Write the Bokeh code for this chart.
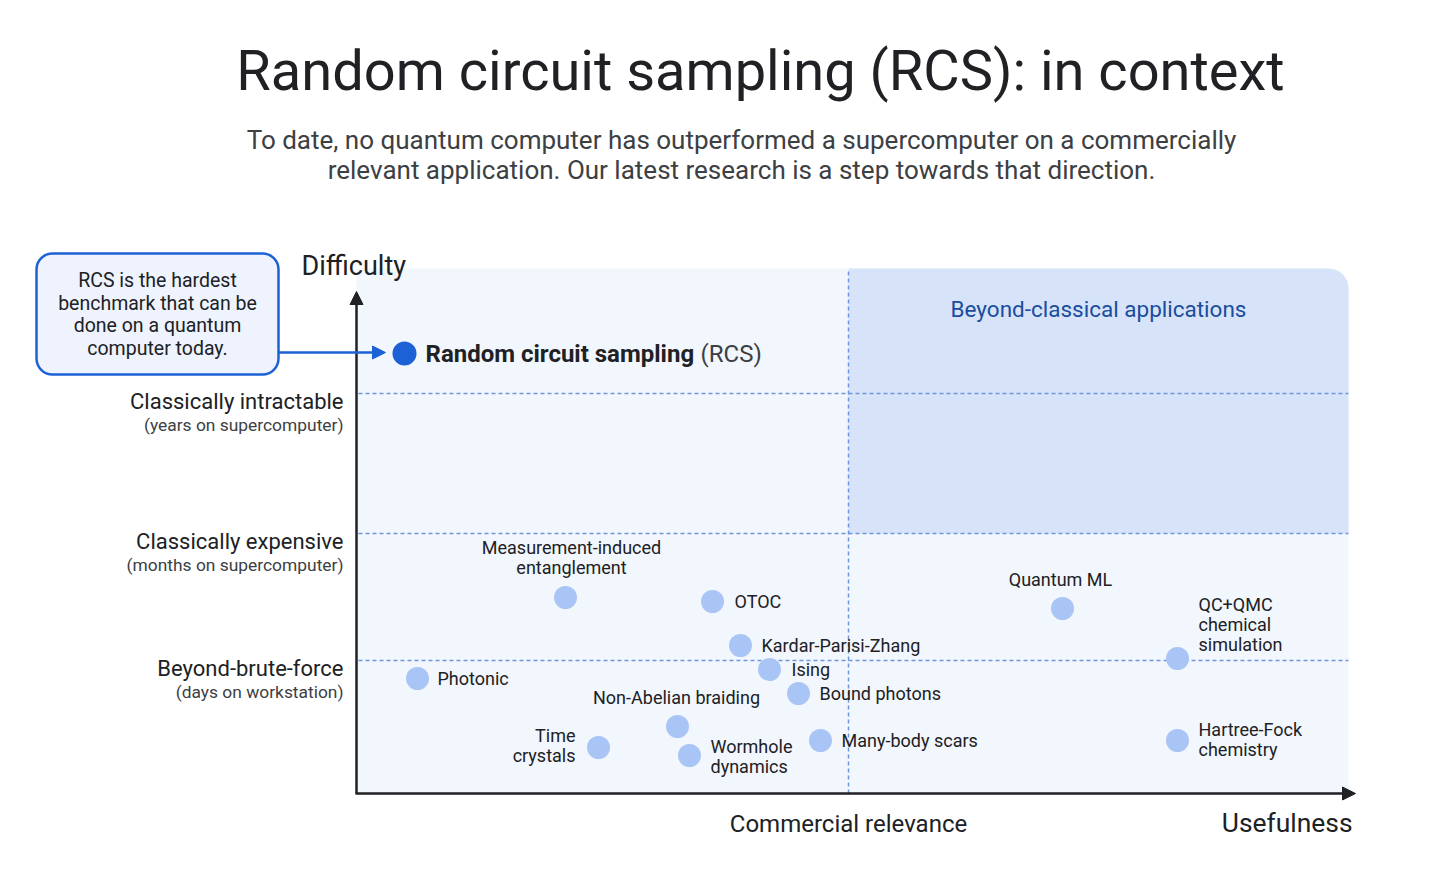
from bokeh.plotting import figure
from bokeh.models import Range1d, BoxAnnotation, Arrow, NormalHead, ColumnDataSource
from bokeh.core.properties import value
from bokeh.embed import file_html
from bokeh.resources import INLINE

# ---------------- data ----------------
# usefulness (x, 0..100) and difficulty (y, 0..100)
names = ["Measurement-induced\nentanglement", "OTOC", "Kardar-Parisi-Zhang", "Ising", "Photonic",
         "Bound photons", "Non-Abelian braiding", "Time\ncrystals", "Wormhole\ndynamics",
         "Many-body scars", "Quantum ML", "QC+QMC\nchemical\nsimulation", "Hartree-Fock\nchemistry"]
usefulness = [20.9, 35.6, 38.4, 41.3, 6.1, 44.2, 32.1, 24.2, 33.3, 46.4, 70.6, 82.1, 82.1]
difficulty = [39.2, 38.4, 29.6, 24.8, 23.0, 20.0, 13.4, 9.2, 7.6, 10.6, 37.0, 27.0, 10.6]

rcs_name = "Random circuit sampling"
rcs_usefulness = [4.8]
rcs_difficulty = [88.0]

tiers = ["Beyond-brute-force", "Classically expensive", "Classically intractable"]
tier_notes = ["(days on workstation)", "(months on supercomputer)", "(years on supercomputer)"]
tier_levels = [26.6, 52.0, 80.0]
commercial_relevance = 49.2

title = "Random circuit sampling (RCS): in context"
subtitle = ("To date, no quantum computer has outperformed a supercomputer on a commercially\n"
            "relevant application. Our latest research is a step towards that direction.")
callout = "RCS is the hardest\nbenchmark that can be\ndone on a quantum\ncomputer today."

# ---------------- layout (pixel offsets of labels) ----------------
label_dx = [6, 22, 21, 22, 20, 21, -1, -23, 21, 21, -2, 21, 21]
label_dy = [-40, 0, 0, 0, 0, 0, -29, -2, 1, 0, -29, -34, -1]
label_align = ["center", "left", "left", "left", "left", "left", "center", "right", "left",
               "left", "center", "left", "left"]

PX_X = 10.0   # pixels per x unit
PX_Y = 5.0    # pixels per y unit
FONT = value("Roboto")
INK = "#202124"
SUB = "#3c4043"
BLUE = "#1c62d6"
DOT = "#a9c5f5"

p = figure(width=1440, height=856, output_backend="svg", toolbar_location=None,
           x_range=Range1d(-35.6, 108.4), y_range=Range1d(-12.6, 158.6),
           min_border=0, background_fill_color="white", border_fill_color="white")
p.axis.visible = False
p.grid.visible = False
p.outline_line_color = None

# plot area background and beyond-classical quadrant
p.add_layout(BoxAnnotation(left=0, right=99.2, bottom=0, top=105, fill_color="#f2f6fd",
                           fill_alpha=1, line_color=None, border_radius=(0, 20, 0, 0), level="underlay"))
p.add_layout(BoxAnnotation(left=commercial_relevance, right=99.2, bottom=tier_levels[1], top=105,
                           fill_color="#d7e3f8", fill_alpha=1, line_color=None,
                           border_radius=(0, 20, 0, 0), level="underlay"))

# dashed tier lines and commercial relevance line
p.segment(x0=[0.2] * 3, x1=[99.2] * 3, y0=tier_levels, y1=tier_levels,
          line_color="#6f96dc", line_width=1.5, line_dash="4 3")
p.segment(x0=[commercial_relevance], x1=[commercial_relevance], y0=[0], y1=[105],
          line_color="#6f96dc", line_width=1.5, line_dash="4 3")

# axes with arrows
p.add_layout(Arrow(x_start=0, y_start=0, x_end=0, y_end=100.4, line_color=INK, line_width=2.5,
                   end=NormalHead(size=13, fill_color=INK, line_color=INK)))
p.add_layout(Arrow(x_start=-0.1, y_start=0, x_end=99.9, y_end=0, line_color=INK, line_width=2.5,
                   end=NormalHead(size=13, fill_color=INK, line_color=INK)))

# points
p.scatter(usefulness, difficulty, size=23, fill_color=DOT, line_color=None)
p.scatter(rcs_usefulness, rcs_difficulty, size=24, fill_color=BLUE, line_color=None)

# point labels
for al in ["left", "center", "right"]:
    idx = [i for i, a in enumerate(label_align) if a == al]
    src = ColumnDataSource(dict(
        x=[usefulness[i] + label_dx[i] / PX_X for i in idx],
        y=[difficulty[i] - label_dy[i] / PX_Y for i in idx],
        t=[names[i] for i in idx]))
    p.text("x", "y", text="t", source=src, text_font=FONT, text_font_size="18px",
           text_color=INK, text_align=al, text_baseline="middle", text_line_height=0.93)

# RCS label
p.text([rcs_usefulness[0] + 21 / PX_X], [rcs_difficulty[0]], text=[rcs_name], text_font=FONT,
       text_font_size="24px", text_font_style="bold", text_color=INK, text_baseline="middle")
p.text([rcs_usefulness[0] + 296 / PX_X], [rcs_difficulty[0]], text=["(RCS)"], text_font=FONT,
       text_font_size="24px", text_color=SUB, text_baseline="middle")

# tier labels on the difficulty axis
p.text([-1.3] * 3, [v - 8 / PX_Y for v in tier_levels], text=tiers, text_font=FONT,
       text_font_size="22px", text_color=INK, text_align="right", text_baseline="middle")
p.text([-1.3] * 3, [v - 31 / PX_Y for v in tier_levels], text=tier_notes, text_font=FONT,
       text_font_size="17.4px", text_color=SUB, text_align="right", text_baseline="middle")

# axis titles
p.text([-5.5], [105.6], text=["Difficulty"], text_font=FONT, text_font_size="27px",
       text_color=INK, text_baseline="middle")
p.text([commercial_relevance], [-6.0], text=["Commercial relevance"], text_font=FONT,
       text_font_size="24px", text_color=INK, text_align="center", text_baseline="middle")
p.text([99.6], [-5.8], text=["Usefulness"], text_font=FONT, text_font_size="26.4px",
       text_color=INK, text_align="right", text_baseline="middle")
p.text([74.2], [97.0], text=["Beyond-classical applications"], text_font=FONT,
       text_font_size="22.5px", text_color="#1a4d9e", text_align="center", text_baseline="middle")

# title and subtitle
p.text([40.4], [144.6], text=[title], text_font=FONT, text_font_size="56px",
       text_color=INK, text_align="center", text_baseline="middle")
p.text([38.5], [127.7], text=[subtitle], text_font=FONT, text_font_size="26px",
       text_color=SUB, text_align="center", text_baseline="middle", text_line_height=1.02)

# callout box with arrow
p.add_layout(BoxAnnotation(left=-32.0, right=-7.8, bottom=83.8, top=108.0, fill_color="#eef3fd",
                           fill_alpha=1, line_color=BLUE, line_alpha=1, line_width=2.5,
                           border_radius=16, level="underlay"))
p.text([-19.9], [95.8], text=[callout], text_font=FONT, text_font_size="19.5px", text_color=INK,
       text_align="center", text_baseline="middle", text_line_height=0.99)
p.add_layout(Arrow(x_start=-7.8, y_start=88.2, x_end=2.9, y_end=88.2, line_color=BLUE, line_width=2.5,
                   end=NormalHead(size=13, fill_color=BLUE, line_color=BLUE)))

open("out.html", "w").write(file_html(p, INLINE))
